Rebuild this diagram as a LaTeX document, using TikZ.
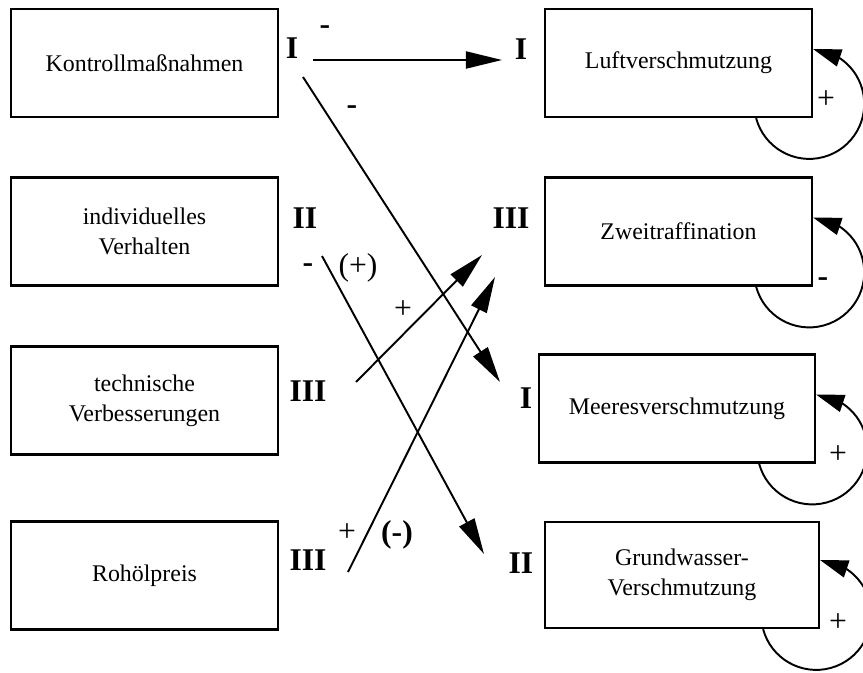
\documentclass[tikz,border=0pt]{standalone}
\usepackage{fontspec}
\setmainfont{Liberation Serif}
\usetikzlibrary{arrows.meta,bending,calc}

\begin{document}
\begin{tikzpicture}[x=0.02cm, y=0.02cm,
  box/.style={draw, line width=1.3pt, minimum width=5.34cm, minimum height=2.16cm,
    align=center, inner sep=0pt, font=\fontsize{13.6}{17.1}\selectfont},
  rank/.style={inner sep=0pt, font=\fontsize{18}{18}\selectfont\bfseries},
  sign/.style={inner sep=0pt, font=\fontsize{18}{18}\selectfont},
  link/.style={line width=1.1pt, -{Triangle[length=20.5pt, width=9.7pt]}},
  selfarc/.style={line width=1.1pt, -{Triangle[length=16pt, width=10pt, flex]}}]
  \clip (0,0) rectangle (863,-673);

  \node[box] (kontroll) at (144.5,-63) {Kontrollmaßnahmen};
  \node[box] (verhalten) at (144.5,-231.5) {individuelles\\Verhalten};
  \node[box] (technik) at (144.5,-400.5) {technische\\Verbesserungen};
  \node[box] (preis) at (144.5,-575.5) {Rohölpreis};

  \node[box] (luft) at (678.5,-63) {Luftverschmutzung};
  \node[box] (zweit) at (678.5,-231.5) {Zweitraffination};
  \node[box, minimum width=5.52cm] (meer) at (677,-408.5) {Meeresverschmutzung};
  \node[box, minimum width=5.48cm, minimum height=2.12cm] (grund) at (682,-575) {Grundwasser-\\Verschmutzung};

  \node[rank] (kI) at (292,-48) {I};
  \node[rank] (lI) at (521,-49) {I};
  \node[rank] (vII) at (305,-218) {II};
  \node[rank] (zIII) at (511,-218) {III};
  \node[rank] (tIII) at (308,-391) {III};
  \node[rank] (mI) at (526,-398) {I};
  \node[rank] (pIII) at (308,-560) {III};
  \node[rank] (gII) at (521,-563) {II};

  \coordinate (a1s) at (313,-60);  \coordinate (a1e) at (502,-60);
  \coordinate (a2s) at (303,-77);  \coordinate (a2e) at (500,-382);
  \coordinate (a3s) at (322,-256); \coordinate (a3e) at (484,-554);
  \coordinate (a4s) at (356,-382); \coordinate (a4e) at (482,-255);
  \coordinate (a5s) at (348,-572); \coordinate (a5e) at (495,-277);

  \draw[link] (a1s) -- (a1e);
  \draw[link] (a2s) -- (a2e);
  \draw[link] (a3s) -- (a3e);
  \draw[link] (a4s) -- (a4e);
  \draw[link] (a5s) -- (a5e);

  \node[sign] (s1) at (325,-30) {\bfseries -};
  \node[sign] (s2) at (352,-110) {\bfseries -};
  \node[sign] (s3) at (308,-268) {\bfseries -};
  \node[sign] (s4) at (358,-268) {(+)};
  \node[sign] (s5) at (403,-310) {+};
  \node[sign] (s6) at (347,-533) {+};
  \node[sign] (s7) at (397,-535) {\bfseries (-)};

  \draw[selfarc] ($(luft.south east)+(-57,0)$) arc[start angle=195, end angle=446, radius=55];
  \draw[selfarc] ($(zweit.south east)+(-57,0)$) arc[start angle=195, end angle=446, radius=55];
  \draw[selfarc] ($(meer.south east)+(-57,0)$) arc[start angle=195, end angle=446, radius=55];
  \draw[selfarc] ($(grund.south east)+(-57,0)$) arc[start angle=195, end angle=446, radius=55];

  \node[sign] (l1) at (826,-100) {+};
  \node[sign] (l2) at (823,-282) {\bfseries -};
  \node[sign] (l3) at (838,-455) {+};
  \node[sign] (l4) at (838,-623) {+};
\end{tikzpicture}
\end{document}
